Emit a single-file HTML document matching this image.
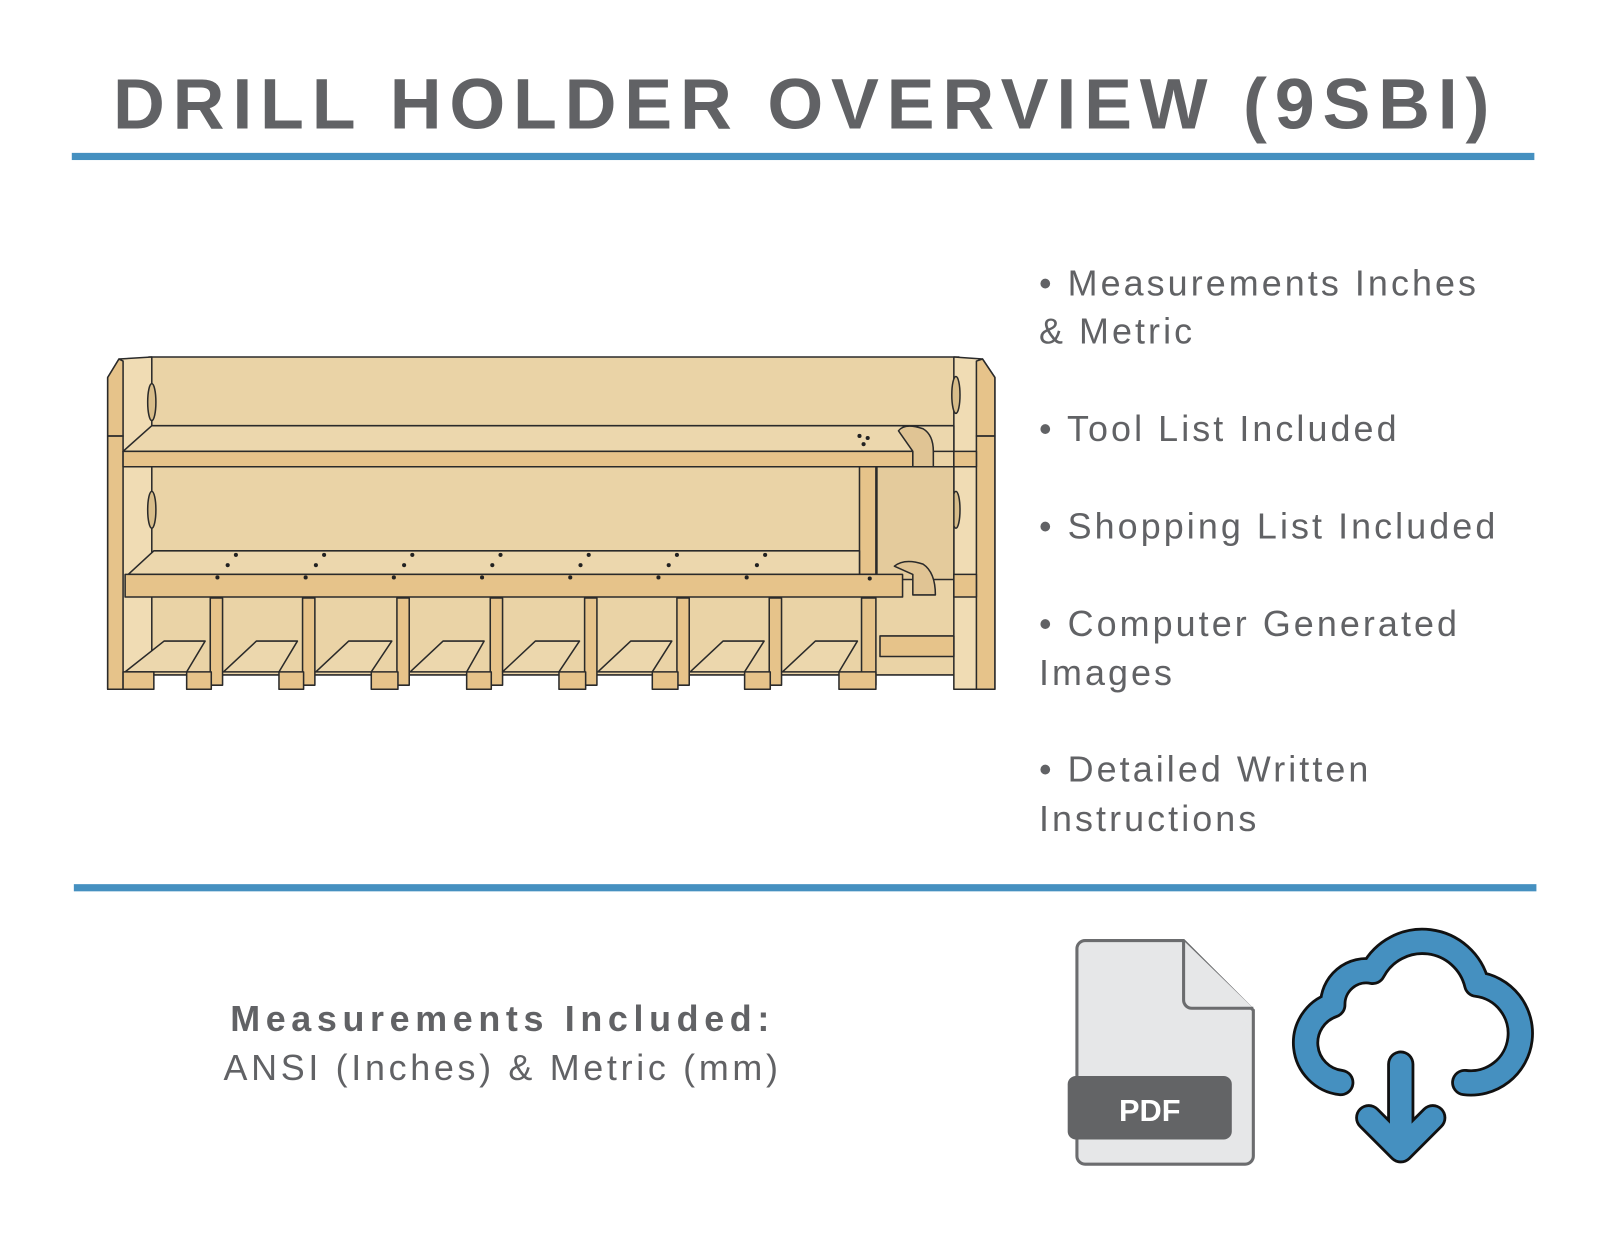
<!DOCTYPE html>
<html><head><style>
html,body{margin:0;padding:0;background:#fff;}
svg{display:block}
</style></head><body>
<svg width="1600" height="1236" viewBox="0 0 1560 1205" xmlns="http://www.w3.org/2000/svg">
<text x="785" y="125" text-anchor="middle" font-family="Liberation Sans, sans-serif" font-weight="bold" font-size="70" letter-spacing="7.6" fill="#616265">DRILL HOLDER OVERVIEW (9SBI)</text>
<rect x="70" y="149" width="1426" height="7" fill="#4590c0"/>
<rect x="72" y="862" width="1426" height="7" fill="#4590c0"/>

<g font-family="Liberation Sans, sans-serif" font-size="35" fill="#616265" letter-spacing="3">
<text x="1013" y="288">• Measurements Inches</text>
<text x="1013" y="335">&amp; Metric</text>
<text x="1013" y="430">• Tool List Included</text>
<text x="1013" y="525">• Shopping List Included</text>
<text x="1013" y="620">• Computer Generated</text>
<text x="1013" y="668">Images</text>
<text x="1013" y="762">• Detailed Written</text>
<text x="1013" y="810">Instructions</text>
</g>
<text x="490" y="1005" text-anchor="middle" font-family="Liberation Sans, sans-serif" font-weight="bold" font-size="35" letter-spacing="5.5" fill="#616265">Measurements Included:</text>
<text x="490" y="1053" text-anchor="middle" font-family="Liberation Sans, sans-serif" font-size="35" letter-spacing="3.6" fill="#616265">ANSI (Inches) &amp; Metric (mm)</text>

<!-- shelf -->
<g stroke="#2a2a2a" stroke-width="1.5" stroke-linejoin="round">
<rect x="145" y="348" width="790" height="310" fill="#ead3a6"/>
<polygon points="105,368 116,350 148,348 148,672 120,672 105,672" fill="#f0dcb4"/>
<rect x="105" y="425" width="15" height="247" fill="#e6c38a"/>
<polygon points="105,368 116,350 120,352 120,425 105,425" fill="#e6c38a"/>
<ellipse cx="148" cy="392" rx="4" ry="18" fill="#d8bd8a"/>
<ellipse cx="148" cy="497" rx="4" ry="18" fill="#d8bd8a"/>
<polygon points="930,348 958,350 970,368 970,672 930,672" fill="#f0dcb4"/>
<rect x="952" y="425" width="18" height="247" fill="#e6c38a"/>
<polygon points="952,352 958,350 970,368 970,425 952,425" fill="#e6c38a"/>
<ellipse cx="932" cy="385" rx="4" ry="18" fill="#d8bd8a"/>
<ellipse cx="932" cy="497" rx="4" ry="18" fill="#d8bd8a"/>
<polygon points="148,415 930,415 930,440 120,440" fill="#ecd7ad"/>
<rect x="120" y="440" width="770" height="15" fill="#e6c38a"/>
<rect x="930" y="440" width="22" height="15" fill="#e6c38a"/>
<path d="M876,420 q6,-8 24,-2 q10,6 10,22 v15 h-20 v-15 z" fill="#e0c494"/>
<rect x="838" y="455" width="16" height="105" fill="#e6c38a"/>
<rect x="855" y="455" width="75" height="110" fill="#e4cb9c"/>
<polygon points="150,537 838,537 838,560 125,560" fill="#ecd7ad"/>
<rect x="122" y="560" width="758" height="22" fill="#e6c38a"/>
<rect x="930" y="560" width="22" height="22" fill="#e6c38a"/>
<path d="M872,552 q10,-8 28,-2 q12,8 12,30 h-22 v-20 z" fill="#e0c494"/>
<g fill="#e6c38a">
<rect x="205" y="583" width="12" height="85"/><rect x="295" y="583" width="12" height="85"/>
<rect x="387" y="583" width="12" height="85"/><rect x="478" y="583" width="12" height="85"/>
<rect x="570" y="583" width="12" height="85"/><rect x="660" y="583" width="12" height="85"/>
<rect x="750" y="583" width="12" height="85"/><rect x="840" y="583" width="14" height="85"/>
</g>
<g fill="#ecd7ad">
<polygon points="122,655 160,625 200,625 182,655"/>
<polygon points="218,655 250,625 290,625 272,655"/>
<polygon points="308,655 340,625 382,625 362,655"/>
<polygon points="400,655 432,625 472,625 455,655"/>
<polygon points="490,655 522,625 565,625 545,655"/>
<polygon points="583,655 615,625 655,625 636,655"/>
<polygon points="673,655 705,625 745,625 726,655"/>
<polygon points="763,655 795,625 836,625 818,655"/>
</g>
<g fill="#e6c38a">
<rect x="120" y="655" width="30" height="17"/><rect x="182" y="655" width="24" height="17"/>
<rect x="272" y="655" width="24" height="17"/><rect x="362" y="655" width="26" height="17"/>
<rect x="455" y="655" width="24" height="17"/><rect x="545" y="655" width="26" height="17"/>
<rect x="636" y="655" width="25" height="17"/><rect x="726" y="655" width="25" height="17"/>
<rect x="818" y="655" width="36" height="17"/>
<rect x="858" y="620" width="72" height="20"/>
</g>
</g>
<g fill="#222">
<circle cx="838" cy="425" r="2"/><circle cx="846" cy="427" r="2"/><circle cx="842" cy="433" r="2"/>
<g id="d"><circle cx="230" cy="541" r="2"/><circle cx="222" cy="551" r="2"/><circle cx="212" cy="563" r="2"/></g>
<use href="#d" x="86"/><use href="#d" x="172"/><use href="#d" x="258"/><use href="#d" x="344"/><use href="#d" x="430"/><use href="#d" x="516"/>
<circle cx="848" cy="564" r="2"/>
</g>

<!-- PDF icon -->
<g transform="translate(-5,-3)">
<path d="M1063,920 h96 l68,68 v142 a8,8 0 0 1 -8,8 h-156 a8,8 0 0 1 -8,-8 v-202 a8,8 0 0 1 8,-8z" fill="#e6e7e8" stroke="#6b6c6e" stroke-width="3"/>
<path d="M1159,920 v58 a8,8 0 0 0 8,8 h60" fill="#e6e7e8" stroke="#6b6c6e" stroke-width="3"/>
<rect x="1046" y="1052" width="160" height="62" rx="8" fill="#636466"/>
<text x="1126" y="1096" text-anchor="middle" font-family="Liberation Sans, sans-serif" font-weight="bold" font-size="30" fill="#fff">PDF</text>
</g>

<!-- cloud -->
<g fill="none" stroke-linecap="round" stroke-linejoin="round" transform="translate(287,238) scale(0.78)">
<path d="M1308,1048 a50,50 0 0 1 -10,-97 a42,42 0 0 1 50,-42 a70,70 0 0 1 130,16 a52,52 0 0 1 -15,123" stroke="#111" stroke-width="34"/>
<path d="M1308,1048 a50,50 0 0 1 -10,-97 a42,42 0 0 1 50,-42 a70,70 0 0 1 130,16 a52,52 0 0 1 -15,123" stroke="#4590c0" stroke-width="27"/>
<path d="M1383,1025 v105 M1343,1092 l40,40 l40,-40" stroke="#111" stroke-width="34"/>
<path d="M1383,1025 v105 M1343,1092 l40,40 l40,-40" stroke="#4590c0" stroke-width="27"/>
</g>
</svg>
</body></html>
